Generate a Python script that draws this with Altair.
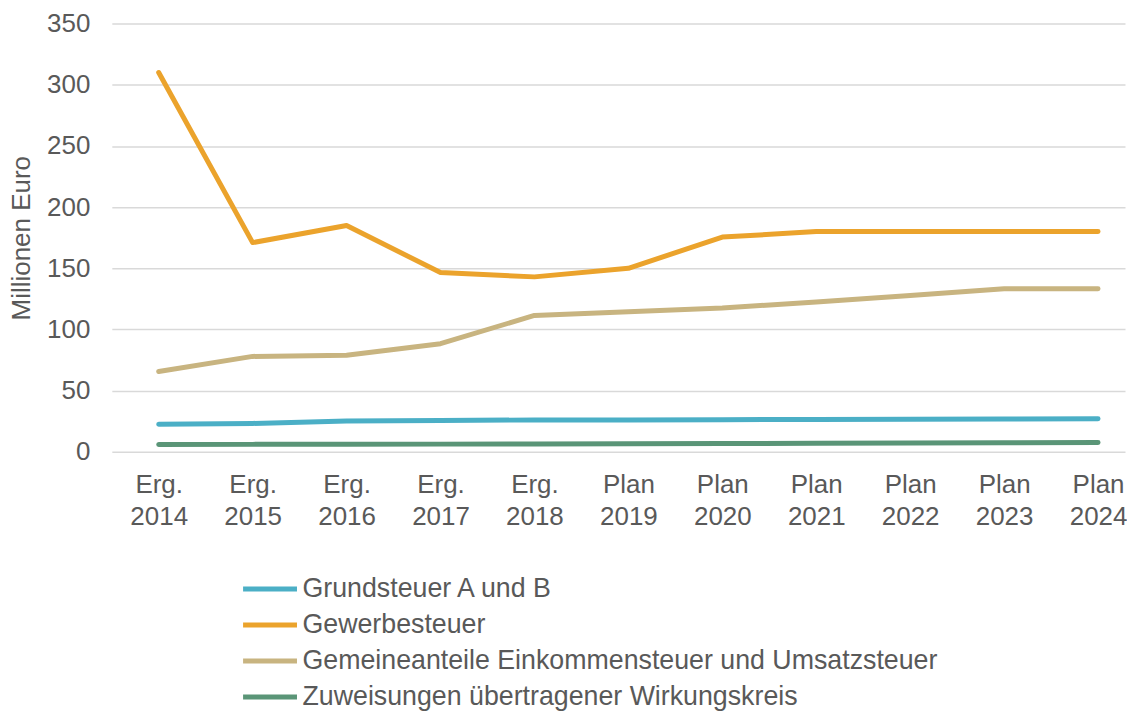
import altair as alt
import pandas as pd

categories = ["Erg. 2014", "Erg. 2015", "Erg. 2016", "Erg. 2017", "Erg. 2018",
              "Plan 2019", "Plan 2020", "Plan 2021", "Plan 2022", "Plan 2023", "Plan 2024"]
series_names = ["Grundsteuer A und B", "Gewerbesteuer",
                "Gemeineanteile Einkommensteuer und Umsatzsteuer",
                "Zuweisungen übertragener Wirkungskreis"]
grundsteuer = [22.6, 23.2, 25.2, 25.7, 26.0, 26.1, 26.3, 26.5, 26.6, 26.8, 27.0]
gewerbesteuer = [310, 171, 185, 146.5, 143, 150, 175.5, 180, 180, 180, 180]
gemeinanteile = [65.6, 78, 79, 88.4, 111.5, 114.5, 117.5, 122.5, 127.8, 133.2, 133.2]
zuweisungen = [6.0, 6.1, 6.2, 6.3, 6.5, 6.6, 6.8, 7.0, 7.2, 7.4, 7.6]
colors = ["#4BAFC6", "#EBA32C", "#C8B480", "#5A9577"]
y_ticks = [0, 50, 100, 150, 200, 250, 300, 350]

rows = []
for name, vals in zip(series_names, [grundsteuer, gewerbesteuer, gemeinanteile, zuweisungen]):
    for cat, v in zip(categories, vals):
        rows.append({"Jahr": cat, "Wert": v, "Reihe": name})
df = pd.DataFrame(rows)

FONT = "Liberation Sans"
GREY = "#595959"

chart = alt.Chart(df).mark_line(strokeWidth=5, strokeCap="round", strokeJoin="round").encode(
    x=alt.X("Jahr:N", sort=categories,
            scale=alt.Scale(padding=0.393, align=0.635),
            axis=alt.Axis(title=None, labelExpr="split(datum.label, ' ')", labelAngle=0,
                          ticks=False, domain=False, grid=False, labelFontSize=26,
                          labelColor=GREY, labelLineHeight=32, labelPadding=20, labelFont=FONT)),
    y=alt.Y("Wert:Q", scale=alt.Scale(domain=[0, 350], nice=False),
            axis=alt.Axis(values=y_ticks, title="Millionen Euro", titleFontSize=26,
                          titleFontWeight="normal", titleColor=GREY, titleFont=FONT,
                          titlePadding=12, labelFontSize=26, labelColor=GREY, labelFont=FONT,
                          labelPadding=22, ticks=False, domain=False,
                          gridColor="#D9D9D9", gridWidth=1.5)),
    color=alt.Color("Reihe:N", sort=series_names,
                    scale=alt.Scale(domain=series_names, range=colors),
                    legend=alt.Legend(title=None, orient="none", legendX=129, legendY=551,
                                      direction="vertical", symbolType="M-1,0H3.154",
                                      symbolSize=676, symbolStrokeWidth=5,
                                      labelFontSize=26.8, labelColor=GREY, labelFont=FONT,
                                      labelOffset=31, rowPadding=6, labelLimit=1000)),
).properties(
    width=1015, height=429,
    padding={"left": 0, "top": 2, "right": 0, "bottom": 0},
).configure(font=FONT, view=alt.ViewConfig(stroke=None))

chart.save("out.html", embed_options={"renderer": "svg", "actions": False})
